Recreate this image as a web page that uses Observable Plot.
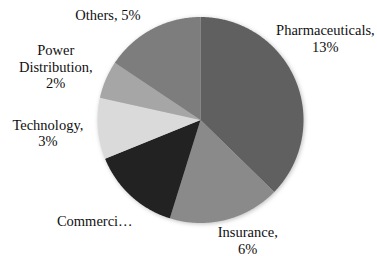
<!DOCTYPE html>
<html>
<head>
<meta charset="utf-8">
<script src="https://cdn.jsdelivr.net/npm/d3@7"></script>
<script src="https://cdn.jsdelivr.net/npm/@observablehq/plot@0.6"></script>
<style>
  html, body { margin: 0; padding: 0; background: #fff; }
  #chart svg { display: block; }
</style>
</head>
<body>
<div id="chart"></div>
<script>
// Data
const categories = ["Pharmaceuticals", "Insurance", "Commercial", "Technology", "Power Distribution", "Others"];
const values = [13.0, 6.1, 4.9, 3.35, 2.05, 5.45];
const labels = ["Pharmaceuticals,\n13%", "Insurance,\n6%", "Commerci\u2026", "Technology,\n3%", "Power\nDistribution,\n2%", "Others, 5%"];
const colors = ["#606060", "#8a8a8a", "#222222", "#dadada", "#a6a6a6", "#7d7d7d"];

// Layout (pixel offsets of each label from its slice's outer mid-point)
const labelOffset = [[30, -42], [22, 20], [-36, 25], [-50, 4], [-50, -13.5], [-44, -15]];
const W = 377, H = 256, CX = 200, CY = 119.5, R = 103;

const arcs = d3.pie().sort(null).value(d => d.value)(
  categories.map((name, i) => ({name, value: values[i], label: labels[i], i}))
);

const polyPts = [];
for (const a of arcs) {
  polyPts.push({name: a.data.name, x: 0, y: 0});
  const steps = Math.max(2, Math.ceil((a.endAngle - a.startAngle) / (Math.PI / 360)));
  for (let k = 0; k <= steps; k++) {
    const t = a.startAngle + (a.endAngle - a.startAngle) * k / steps;
    polyPts.push({name: a.data.name, x: R * Math.sin(t), y: -R * Math.cos(t)});
  }
  polyPts.push({name: a.data.name, x: 0, y: 0});
}

const labelPts = arcs.map(a => {
  const m = (a.startAngle + a.endAngle) / 2;
  const [ox, oy] = labelOffset[a.data.i];
  return {label: a.data.label, x: R * Math.sin(m) + ox, y: -R * Math.cos(m) + oy};
});

const chart = Plot.plot({
  width: W,
  height: H,
  margin: 0,
  x: {domain: [-CX, W - CX], range: [0, W], axis: null},
  y: {domain: [-CY, H - CY], range: [0, H], axis: null},
  color: {domain: categories, range: colors},
  style: {fontFamily: "serif", background: "#fff"},
  marks: [
    Plot.line(polyPts, {x: "x", y: "y", z: "name", fill: "name", stroke: null}),
    Plot.text(labelPts, {
      x: "x", y: "y", text: "label",
      fill: "#111", fontSize: 14.5, lineHeight: 1.17,
      textAnchor: "middle", lineAnchor: "middle"
    })
  ]
});
chart.querySelectorAll("text").forEach(t => {
  t.setAttribute("font-family", "Liberation Serif");
  t.style.fontFamily = "Liberation Serif";
});
const g = chart.querySelector('g[aria-label="line"]');
if (g) g.style.filter = "drop-shadow(1px 1px 2px rgba(0,0,0,0.25))";
document.getElementById("chart").appendChild(chart);
</script>
</body>
</html>
